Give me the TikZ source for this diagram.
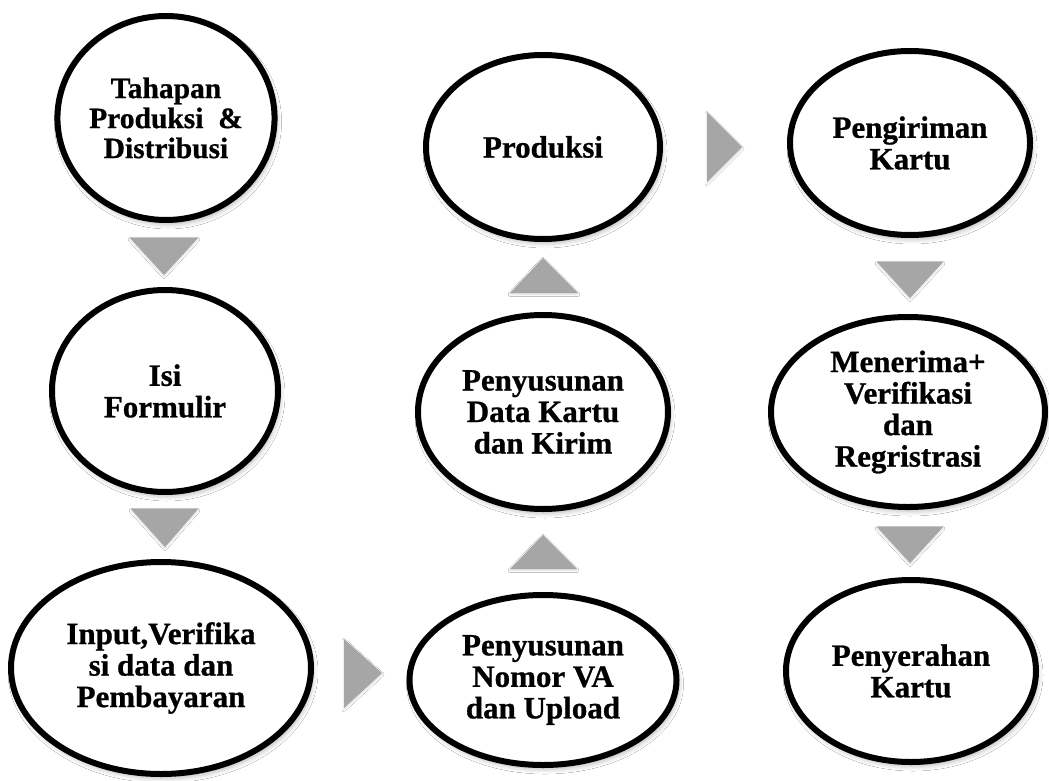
\documentclass[tikz,border=0pt]{standalone}
\usepackage{fontspec}
\setmainfont{Liberation Serif}[BoldFeatures={FakeBold=0.8}]
\usetikzlibrary{shapes.geometric,shadows.blur}
\begin{document}
\begin{tikzpicture}[x=1pt,y=-1pt,
  bub/.style={draw=black, line width=6pt, fill=white, ellipse, inner sep=0pt, align=center,
    font=\bfseries\fontsize{31}{31.5}\selectfont,
    blur shadow={shadow xshift=2pt, shadow yshift=-4pt, shadow blur radius=5pt, shadow opacity=30}},
  smalltext/.style={font=\bfseries\fontsize{29.5}{30}\selectfont},
  tri/.style={fill=black!35, draw=none,
    blur shadow={shadow xshift=0pt, shadow yshift=-1.5pt, shadow blur radius=2pt, shadow opacity=15}}
]
\fill[white] (0,0) rectangle (1049,781);
\useasboundingbox (0,0) rectangle (1049,781);

% ellipses with their texts (outer size minus stroke)
\node[bub, smalltext, minimum width=212pt, minimum height=204pt] (e1) at (166,118) {Tahapan\\Produksi \ \&\\Distribusi};
\node[bub, minimum width=226pt, minimum height=202pt] (e2) at (165,391) {Isi\\Formulir};
\node[bub, minimum width=300pt, minimum height=212pt] (e3) at (161,668) {Input,Verifika\\si data dan\\Pembayaran};
\node[bub, minimum width=267pt, minimum height=170pt] (e4) at (543,680) {Penyusunan\\Nomor VA\\dan Upload};
\node[bub, minimum width=250pt, minimum height=194pt] (e5) at (543,412) {Penyusunan\\Data Kartu\\dan Kirim};
\node[bub, minimum width=234pt, minimum height=184pt] (e6) at (543,147) {Produksi};
\node[bub, minimum width=240pt, minimum height=184pt] (e7) at (910,143) {Pengiriman\\Kartu};
\node[bub, minimum width=274pt, minimum height=190pt] (e8) at (908,412) {Menerima+\\Verifikasi\\dan\\Regristrasi};
\node[bub, minimum width=250pt, minimum height=182pt] (e9) at (911,671) {Penyerahan\\Kartu};

% gray arrow triangles
\fill[tri] (130,238) -- (198,238) -- (164,275) -- cycle;
\fill[tri] (131,509) -- (198,509) -- (165,547) -- cycle;
\fill[tri] (344,639) -- (344,708) -- (382,673) -- cycle;
\fill[tri] (510,569) -- (577,569) -- (543,535) -- cycle;
\fill[tri] (510,293) -- (578,293) -- (543,258) -- cycle;
\fill[tri] (707,112) -- (707,182) -- (742,147) -- cycle;
\fill[tri] (877,262) -- (943,262) -- (910,298) -- cycle;
\fill[tri] (877,527) -- (943,527) -- (910,563) -- cycle;
\end{tikzpicture}
\end{document}
